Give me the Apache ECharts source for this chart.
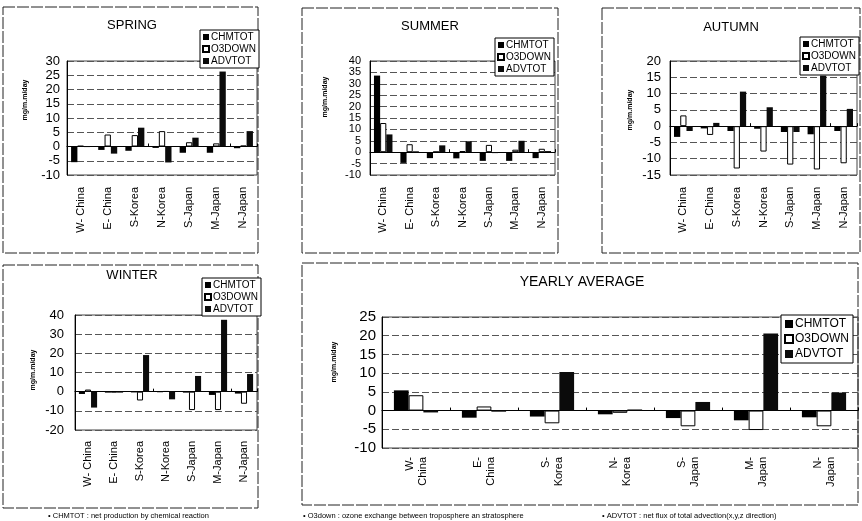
<!DOCTYPE html>
<html><head><meta charset="utf-8">
<script src="https://cdn.jsdelivr.net/npm/echarts@6/dist/echarts.min.js"></script>
<style>html,body{margin:0;padding:0;background:#fff}#c{width:862px;height:521px}</style>
</head><body><div id="c"></div>
<script>
// ---- data ----
const categories = ['W- China', 'E- China', 'S-Korea', 'N-Korea', 'S-Japan', 'M-Japan', 'N-Japan'];
const yearlyCategories = ['W-\nChina', 'E-\nChina', 'S-\nKorea', 'N-\nKorea', 'S-\nJapan', 'M-\nJapan', 'N-\nJapan'];
const seriesNames = ['CHMTOT', 'O3DOWN', 'ADVTOT'];
const panelTitles = ['SPRING', 'SUMMER', 'AUTUMN', 'WINTER', 'YEARLY AVERAGE'];
const yAxisName = 'mg/m.m/day';

const springCHMTOT = [-5.5, -1.2, -1.5, -0.5, -2.2, -2.2, -0.6];
const springO3DOWN = [0.2, 4.2, 4.0, 5.4, 1.5, 1.1, 0.3];
const springADVTOT = [-0.2, -2.5, 6.6, -5.6, 3.1, 26.3, 5.4];

const summerCHMTOT = [33.6, -4.7, -2.6, -2.7, -3.8, -3.8, -2.6];
const summerO3DOWN = [12.8, 3.5, 0.2, 0.5, 3.2, 1.1, 1.5];
const summerADVTOT = [7.8, 0.4, 3.0, 4.8, -0.4, 5.0, 0.5];

const autumnCHMTOT = [-3.3, -0.7, -1.5, -0.8, -1.8, -2.5, -1.5];
const autumnO3DOWN = [3.3, -2.7, -13.0, -7.8, -11.8, -13.3, -11.4];
const autumnADVTOT = [-1.5, 1.0, 10.6, 5.8, -1.8, 15.5, 5.3];

const winterCHMTOT = [-1.2, -0.5, -0.4, -0.3, -0.5, -1.7, -1.0];
const winterO3DOWN = [1.1, -0.3, -4.6, 0.2, -9.6, -9.6, -6.3];
const winterADVTOT = [-8.3, -0.5, 19.1, -4.0, 8.2, 37.5, 9.2];

const yearlyCHMTOT = [5.4, -1.9, -1.6, -1.0, -2.0, -2.6, -1.8];
const yearlyO3DOWN = [4.1, 1.1, -3.4, -0.6, -4.2, -5.2, -4.2];
const yearlyADVTOT = [-0.5, -0.3, 10.3, 0.3, 2.3, 20.6, 4.8];

// y-axis ranges [min, max, interval]
const springRange = [-10, 30, 5];
const summerRange = [-10, 40, 5];
const autumnRange = [-15, 20, 5];
const winterRange = [-20, 40, 10];
const yearlyRange = [-10, 25, 5];

const footnotes = [
  '\u2022 CHMTOT : net production by chemical reaction',
  '\u2022 O3down : ozone exchange between troposphere an stratosphere',
  '\u2022 ADVTOT : net flux of total advection(x,y,z direction)'
];

// ---- layout (positions / styles only) ----
const panelData = [
  [springCHMTOT, springO3DOWN, springADVTOT],
  [summerCHMTOT, summerO3DOWN, summerADVTOT],
  [autumnCHMTOT, autumnO3DOWN, autumnADVTOT],
  [winterCHMTOT, winterO3DOWN, winterADVTOT],
  [yearlyCHMTOT, yearlyO3DOWN, yearlyADVTOT]
];
const ranges = [springRange, summerRange, autumnRange, winterRange, yearlyRange];
const layout = [
  {grid:[67,61,190,114], box:[3,7,255,246], title:[132,25,13], name:[25,100], legend:[200,30], yFont:13, yMargin:7, xFont:11, xMargin:12, gap:'30%', lg:'s'},
  {grid:[370,61,185,114], box:[302,8,256,245], title:[430,26,13], name:[325,97], legend:[495,38], yFont:11, yMargin:9, xFont:11, xMargin:12, gap:'30%', lg:'s'},
  {grid:[670,61,187,114], box:[602,8,258,245], title:[731,27,13], name:[630,110], legend:[800,37], yFont:13, yMargin:9, xFont:11, xMargin:12, gap:'30%', lg:'s'},
  {grid:[75,315,182,115], box:[3,265,255,243], title:[132,275,13], name:[33,370], legend:[202,278], yFont:13, yMargin:11, xFont:11, xMargin:11, gap:'30%', lg:'s'},
  {grid:[382,317,476,131], box:[302,263,556,242], title:[582,282,14], name:[334,362], legend:[781,315], yFont:15, yMargin:6, xFont:11, xMargin:9, gap:'35%', lg:'l'}
];
const FONT = '"Liberation Sans", Arial, sans-serif';
const barStyles = [
  {color:'#000', borderColor:'#000', borderWidth:0},
  {color:'#fff', borderColor:'#000', borderWidth:1},
  {color:'#0b0b0b', borderColor:'#000', borderWidth:0}
];

const grid = [], xAxis = [], yAxis = [], series = [], legend = [], graphic = [];
layout.forEach((L, i) => {
  const cats = i === 4 ? yearlyCategories : categories;
  grid.push({left:L.grid[0], top:L.grid[1], width:L.grid[2], height:L.grid[3], show:true, borderColor:'#444', borderWidth:1, containLabel:false});
  xAxis.push({type:'category', gridIndex:i, data:cats, position:'bottom',
    axisLine:{show:false, onZero:false}, axisTick:{show:false},
    axisLabel:{rotate:90, interval:0, fontSize:L.xFont, color:'#000', margin:L.xMargin, fontFamily:FONT, lineHeight:13}});
  xAxis.push({type:'category', gridIndex:i, data:cats, position:'top',
    axisLine:{show:true, onZero:true, lineStyle:{color:'#000', width:1}},
    axisTick:{show:true, length:3, lineStyle:{color:'#000'}}, axisLabel:{show:false}, splitLine:{show:false}});
  const r = ranges[i];
  yAxis.push({type:'value', gridIndex:i, min:r[0], max:r[1], interval:r[2],
    axisLine:{show:true, lineStyle:{color:'#000', width:1}}, axisTick:{show:false},
    splitLine:{show:true, lineStyle:{color:'#555', width:1, type:[7,3]}},
    axisLabel:{fontSize:L.yFont, color:'#000', margin:L.yMargin, fontFamily:FONT}});
  seriesNames.forEach((nm, k) => {
    series.push({type:'bar', name:nm, xAxisIndex:2*i, yAxisIndex:i, data:panelData[i][k],
      barGap:'0%', barCategoryGap:L.gap, itemStyle:barStyles[k], silent:true, animation:false});
  });
  const big = L.lg === 'l';
  legend.push({data:seriesNames, orient:'vertical', left:L.legend[0], top:L.legend[1],
    itemWidth: big ? 8 : 6, itemHeight: big ? 8 : 6, itemGap: big ? 3 : 2,
    padding: big ? [3,4,3,3] : [2,3,2,2], borderColor:'#000', borderWidth:1, backgroundColor:'#fff',
    selectedMode:false, icon:'rect',
    textStyle:{fontSize: big ? 12 : 10, color:'#000', fontFamily:FONT, padding:[0,0,0,-3]}});
  graphic.push({type:'rect', shape:{x:L.box[0], y:L.box[1], width:L.box[2], height:L.box[3]},
    style:{fill:'none', stroke:'#222', lineWidth:1, lineDash:[12,2]}, silent:true, z:0});
  graphic.push({type:'text', x:L.title[0], y:L.title[1],
    style:{text:panelTitles[i], font:L.title[2] + 'px ' + FONT, fill:'#000', align:'center', verticalAlign:'middle', textAlign:'center', textVerticalAlign:'middle'}});
  graphic.push({type:'text', x:L.name[0], y:L.name[1], rotation:Math.PI/2,
    style:{text:yAxisName, font:'bold 7px ' + FONT, fill:'#000', align:'center', verticalAlign:'middle', textAlign:'center', textVerticalAlign:'middle'}});
});
const footX = [48, 303, 602];
footnotes.forEach((t, i) => {
  graphic.push({type:'text', x:footX[i], y:516,
    style:{text:t, font:'7.5px ' + FONT, fill:'#000', align:'left', verticalAlign:'middle', textAlign:'left', textVerticalAlign:'middle'}});
});

const chart = echarts.init(document.getElementById('c'), null, {renderer:'canvas'});
chart.setOption({animation:false, backgroundColor:'#fff', grid, xAxis, yAxis, series, legend, graphic});
</script>
</body></html>
